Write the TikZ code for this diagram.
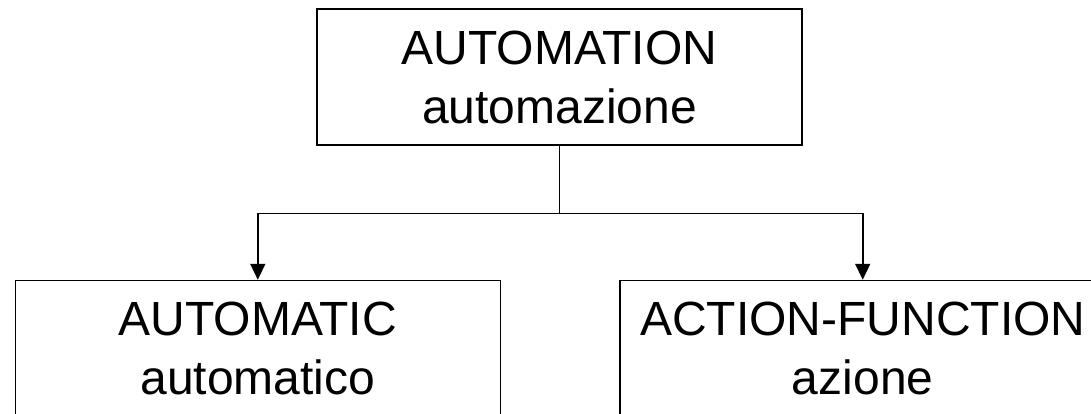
\documentclass[tikz,border=0pt]{standalone}
\usepackage{fontspec}
\setmainfont{Liberation Sans}
\usetikzlibrary{arrows.meta}
\begin{document}
\begin{tikzpicture}[x=1pt,y=1pt,
  termbox/.style={draw=black, line width=1.5pt, minimum width=485pt, minimum height=136pt,
    inner sep=0pt, align=center, font=\fontsize{48}{59}\selectfont},
  link/.style={draw=black, line width=1.6pt},
  arrowlink/.style={link, -{Triangle[width=15pt,length=16pt]}}]
\useasboundingbox (0,0) rectangle (1091,413);
\clip (0,0) rectangle (1091,413);
\node[termbox] (top) at (559.5,336) {AUTOMATION\\automazione};
\node[termbox] (left) at (257.8,64.5) {AUTOMATIC\\automatico};
\node[termbox] (right) at (862.7,64.5) {ACTION-FUNCTION\\azione};
\coordinate (junction) at (559.5,199.7);
\draw[link] (top.south) -- (junction);
\draw[arrowlink] (junction) -| (left.north);
\draw[arrowlink] (junction) -| (right.north);
\end{tikzpicture}
\end{document}
